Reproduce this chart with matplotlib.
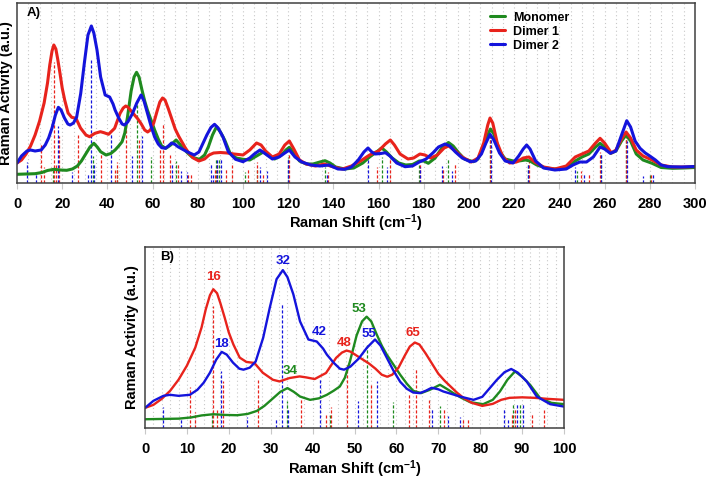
import matplotlib
matplotlib.use('Agg')
import matplotlib.pyplot as plt
import numpy as np

plt.rcParams['font.family'] = 'Liberation Sans'
plt.rcParams['font.weight'] = 'bold'
plt.rcParams['mathtext.fontset'] = 'custom'
plt.rcParams['mathtext.rm'] = 'Liberation Sans:bold'
plt.rcParams['mathtext.bf'] = 'Liberation Sans:bold'
plt.rcParams['mathtext.default'] = 'bf'

# broadened spectra, x in cm-1, y in a.u.
mono_x = [0, 4, 8, 11, 13.5, 16.3, 19, 22, 24.5, 26.7, 28.5, 30.6, 32.3, 34, 35.5, 37, 39.4, 41.5, 43.4, 45,
          46.5, 47.7, 48.9, 50.5, 51.8, 52.9, 54, 55.3, 56.5, 57.7, 59.3, 60.9, 62.5, 64, 65.9, 68, 70.4, 72,
          73.6, 75.5, 77.6, 80.7, 83, 84.7, 86.5, 88.3, 90, 91.9, 94.3, 97, 100,
          103, 106, 109, 111, 114, 117, 119, 120.5, 122.5, 125, 128, 131, 134, 136.3, 138.5, 141, 145, 149,
          153, 156, 159, 161.4, 163.5, 166, 169, 172, 175, 178, 180, 182, 185, 188, 190.9, 193, 195.5, 198,
          201.9, 204, 206.5, 208.5, 209.5, 211, 213.5, 216, 219.6, 222, 225, 227, 230, 234, 238, 243, 247,
          250, 253, 256, 258, 260, 262.7, 265, 267.5, 269.5, 271.5, 274, 277, 281, 285, 290, 295, 300]
mono_y = [8.7, 9, 9.3, 10.5, 12.5, 13.7, 13, 12.7, 14, 17, 22, 29.7, 36, 39.7, 36, 31.3, 28, 29.5, 33, 37,
          41.3, 50, 66, 92, 106, 110.7, 106, 93, 82, 73, 63, 53, 44, 37, 34.7, 38, 43, 39,
          34.7, 30, 25.7, 23.7, 28, 36.3, 48, 56.3, 51, 43, 29.7, 25, 23.7,
          23, 27, 31, 28, 24, 28, 33, 35.7, 30, 22, 19, 19, 21, 22.3, 20, 16, 14, 15,
          20, 26, 31, 35, 31, 25, 20, 18, 18.5, 22, 22, 19.7, 25, 35, 40.5, 37, 30, 24,
          21.3, 24, 36, 49, 54, 49, 32, 24, 22, 22, 23, 22, 18, 15, 14, 15, 22,
          26, 29, 36, 39.7, 36, 29.7, 32, 42, 48, 42, 29, 23, 19.7, 15.5, 14.7, 15, 15.5]

dim1_x = [0, 2, 4, 6, 8, 10, 12, 13.5, 14.5, 15.5, 16.3, 17.2, 18, 19, 20, 21.1, 22.6, 24.2, 26.1, 28.1,
          30.5, 32.1, 34.5, 36.9, 38.5, 40.5, 43.2, 45.6, 47, 48.1, 49, 50.5, 52, 53.5, 55, 56.5, 57.8, 59,
          60.5, 62, 63.2, 64.4, 65.5, 67, 68.5, 70, 71.5, 73, 74.5, 76, 78, 80.5, 83, 85, 87, 90, 93, 96, 100,
          103, 106, 108, 110, 113, 116, 118.5, 120.5, 122.5, 125, 128, 132, 136, 140, 144, 148, 152, 156, 160,
          163, 165.2, 167, 169.5, 173, 175.5, 178.3, 180.5, 183, 186, 189, 191, 194, 197, 201, 204, 206.5,
          208.3, 209.3, 210.5, 212.5, 215, 218, 221, 224, 226.5, 229, 233, 238, 243, 247, 250, 253, 256, 258,
          260, 263, 265, 267.5, 269.5, 271.5, 274, 277, 281, 285, 290, 295, 300]
dim1_y = [20, 23, 29, 37, 48, 62, 80, 100, 118, 132, 138, 134, 124, 110, 95, 83, 70, 65.7, 64.7, 55,
          48, 46.3, 49.7, 51.3, 50.3, 48.7, 54.7, 69.7, 75, 77, 76, 72, 68, 64, 59, 53, 51, 53,
          60, 72, 81, 85, 83, 74, 64, 54, 47, 41, 35, 30, 25, 22, 24, 28, 30, 30.5, 30, 29, 28,
          33, 40, 38, 32, 26, 29, 38, 42, 34, 23, 19, 17, 19, 16, 14, 17, 22, 28, 32,
          39, 43, 38, 29, 24, 25, 29, 28, 25, 28, 35, 37, 32, 26, 21, 25, 40,
          58, 65, 60, 40, 26, 20, 21, 25, 26, 21, 16, 14, 17, 26, 29, 32, 40, 44.7,
          40, 30, 33, 44, 51, 45, 33, 27, 23, 18, 16, 16, 16.5]

dim2_x = [0, 2, 4.4, 6, 8, 10.7, 12.5, 14, 15.5, 17, 18.3, 19.5, 21, 22.5, 23.5, 25, 26.4, 28.2, 29.8, 31.4,
          32.9, 34, 35.4, 37, 39, 41, 42.5, 43.4, 45, 46.5, 47.5, 49, 51, 53, 54.9, 56.2, 57.7, 59.3, 60.9,
          62.5, 64, 65.6, 67, 68.4, 70, 71.2, 73, 75.2, 78.4, 80.5, 82.3, 84, 85.8, 87.4, 89, 91.1, 93.5,
          96.7, 100,
          103, 105, 107.5, 110, 113, 116, 118.5, 120.5, 123, 126, 130, 134, 138, 142, 145, 148, 151, 153.5,
          155.3, 157, 158.5, 161, 163, 165, 168, 171.7, 175, 178, 181, 184, 186.5, 189.4, 191.5, 194, 197,
          200.5, 203, 205.5, 207.5, 209.3, 211, 213.5, 216, 219.5, 222, 224, 225.5, 227, 229.5, 233, 238,
          243, 246, 249, 252, 255, 258, 260, 262.5, 265, 267.5, 269.8, 271.5, 273.5, 275.7, 278, 280, 282.5,
          285, 288, 294, 300]
dim2_y = [20, 27, 32, 33, 32, 33, 38, 45, 55, 68, 75.7, 73, 65, 59, 58, 60, 66, 89.7, 120, 148,
          157, 150, 133, 106, 88, 86, 79, 73, 65, 59, 58, 61, 69, 80, 88, 82, 70, 57, 46,
          39, 35.3, 34.7, 37, 40, 38.5, 36.3, 34, 31.3, 28, 31, 39.7, 48, 55.5, 58.7, 55, 46.3, 31.3,
          23.7, 21.3,
          25, 29, 33, 29, 24, 26, 30, 33, 26, 21, 18, 17, 18, 14, 13.7, 16, 23, 31,
          35, 31, 29, 29.5, 30.3, 27, 20, 16.3, 17, 21, 24, 30, 36, 39, 37, 31, 25,
          21.3, 22, 29, 40, 48.7, 43, 30, 22, 20, 27, 34, 38, 34, 22, 15, 13,
          14, 18, 21, 21, 26, 36, 34, 29.7, 32, 48, 62.3, 56, 42, 34.7, 30, 27, 23,
          18, 16.3, 16, 16.5]

# computed Raman lines (stick positions and heights)
mono_sx = [16, 33.8, 44.1, 52.9, 59.1, 70.4, 87.9, 89.5, 101, 106, 120, 136.3, 161.5, 178, 190.9, 209.5,
           226, 248, 258.3, 269.6, 280]
mono_sh = [13, 27, 13, 83, 26.3, 22, 23.7, 23.7, 11, 15, 26, 16, 26, 18, 24.7, 47,
           20, 12, 28, 45, 8]
dim1_sx = [10.7, 11.9, 16.2, 17.2, 18.7, 27, 37.2, 43.2, 44.3, 48.1, 53.9, 63.1, 64.6, 67.8, 71.3, 75.8,
           77.2, 87.7, 88.3, 92.3, 95.2, 102.4, 106, 108.8, 120.3, 137.8, 159.2, 165, 178.5, 188.5, 194,
           209.1, 226.6, 249.5, 253, 257.8, 269.3, 280.5]
dim1_sh = [40.3, 16.3, 121, 18, 47, 48, 29.7, 13, 21.3, 64.7, 43, 33.7, 59.7, 28, 20.3, 9.7,
           9.7, 15, 19.7, 13.7, 18, 13.7, 21, 10, 29.7, 11, 15.7, 23.7, 20, 14, 19.7,
           50, 23, 12, 9, 31, 48, 10]
dim2_sx = [4.4, 8.5, 18.1, 24.3, 31.3, 32.6, 34.2, 41.8, 50.9, 55.3, 68.6, 72.4, 75.2, 85.7, 86.7, 88.7,
           90.3, 107.5, 110.5, 119.8, 137, 155.4, 163.5, 178.1, 188, 192.5, 209.7, 226.2, 246.8, 251,
           258.6, 270, 277, 281.5]
dim2_sh = [20.7, 10.3, 57, 11.3, 9.7, 123, 19.7, 49.7, 27, 47, 20.3, 12, 11.3, 20.3, 10, 23.7,
           23.7, 16, 12, 24, 10, 24, 16, 16, 17, 12, 45, 18, 16, 10,
           30, 42, 7, 10]

# peak annotations in panel B
peak_text = ['16', '18', '32', '42', '48', '34', '53', '55', '65']
peak_x = [16.3, 18.3, 32.9, 41.6, 47.5, 34.6, 51.1, 53.5, 64]
peak_y = [149.7, 83.7, 165.7, 95.7, 84.7, 56.3, 118, 93.7, 94.7]
peak_of = [1, 2, 2, 2, 1, 0, 0, 2, 1]

names = ['Monomer', 'Dimer 1', 'Dimer 2']
cols = ['#1f8a1f', '#e8231c', '#1414dc']
curves = [(mono_x, mono_y), (dim1_x, dim1_y), (dim2_x, dim2_y)]
sticks = [(mono_sx, mono_sh), (dim1_sx, dim1_sh), (dim2_sx, dim2_sh)]

fig = plt.figure(figsize=(7.09, 4.79), dpi=100)
axA = fig.add_axes([17 / 709, 1 - 183 / 479, 678 / 709, 180 / 479])
axB = fig.add_axes([145 / 709, 1 - 428 / 479, 419 / 709, 181 / 479])


def draw(ax, xmax, major, grid, lw):
    for g in np.arange(grid, xmax, grid):
        ax.axvline(g, color='#c8c8c8', lw=0.8, ls=(0, (1, 2.5)), zorder=0)
    for (sx, sh), c in zip(sticks, cols):
        ax.vlines(sx, 0, sh, colors=c, lw=0.9, linestyles=(0, (2.5, 1.5)), zorder=1)
    for (x, y), c, n in zip(curves, cols, names):
        ax.plot(x, y, color=c, lw=lw, label=n, zorder=2, solid_capstyle='round')
    ax.set_xlim(0, xmax)
    ax.set_ylim(0, 180)
    ax.set_xticks(np.arange(0, xmax + 1, major))
    ax.set_yticks([])
    ax.tick_params(axis='x', direction='out', length=4, color='#c8c8c8', pad=6, labelsize=10.5)
    for s in ax.spines.values():
        s.set_color('#404040')
        s.set_linewidth(1.1)
    ax.set_xlabel(r'Raman Shift (cm$^{-1}$)', fontsize=10.5, fontweight='bold')
    ax.set_ylabel('Raman Activity (a.u.)', fontsize=10.5, fontweight='bold')


draw(axA, 300, 20, 5, 2.2)
draw(axB, 100, 10, 2, 1.7)

axA.xaxis.set_label_coords(0.5, -0.165)
axA.yaxis.set_label_coords(-0.006, 0.5)
axB.xaxis.set_label_coords(0.5, -0.17)
axB.yaxis.set_label_coords(-0.014, 0.5)

axA.text(0.015, 0.93, 'A)', transform=axA.transAxes, fontsize=9.5, fontweight='bold')
axB.text(0.035, 0.93, 'B)', transform=axB.transAxes, fontsize=9.5, fontweight='bold')

axA.legend(loc='upper left', bbox_to_anchor=(0.685, 1.0), frameon=False, fontsize=9,
           handlelength=1.2, handletextpad=0.6, labelspacing=0.15, borderpad=0.2)

for t, x, y, k in zip(peak_text, peak_x, peak_y, peak_of):
    axB.text(x, y, t, color=cols[k], fontsize=9.5, fontweight='bold', ha='center', va='center')

fig.savefig('out.png', dpi=100)
